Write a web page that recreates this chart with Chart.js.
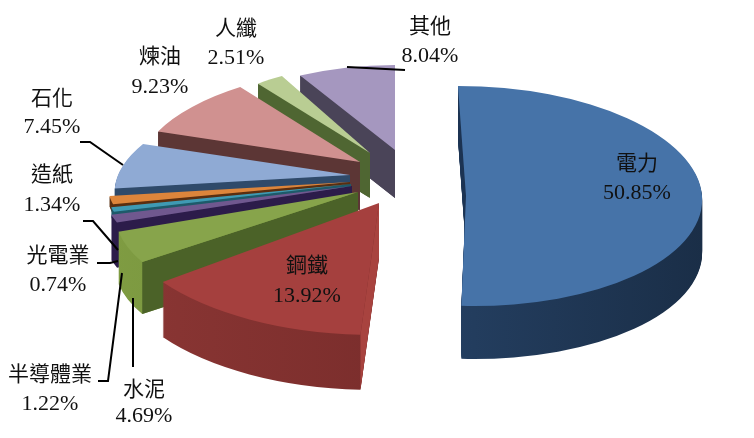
<!DOCTYPE html>
<html>
<head>
<meta charset="utf-8">
<title>pie</title>
<style>
    html, body { margin: 0; padding: 0; background: #ffffff; }
    canvas { display: block; }
</style>
<script src="https://cdn.jsdelivr.net/npm/chart.js@4"></script>
</head>
<body>
<canvas id="pieChart" width="754" height="438"></canvas>
<script>
"use strict";

const categories = ['電力', '鋼鐵', '水泥', '半導體業', '光電業', '造紙', '石化', '煉油', '人纖', '其他'];
const shares = [50.85, 13.92, 4.69, 1.22, 0.74, 1.34, 7.45, 9.23, 2.51, 8.04];

// colours: top face, rim wall (left/right), cut face
const topColors = ['#4673a8', '#a5403e', '#87a44b', '#70588f', '#3f9ab3', '#dd853b', '#8faad4', '#d09190', '#b9cd93', '#a597bf'];
const rimLeft = ['#2c4c75', '#8b3634', '#7f9c42', '#2c1c4a', '#1e5a6a', '#5a2e10', '#34506f', '#5c3635', '#4f6632', '#4a4458'];
const rimRight = ['#1a2e47', '#6c2625', '#6f8a3a', '#2c1c4a', '#1e5a6a', '#5a2e10', '#34506f', '#5c3635', '#4f6632', '#4a4458'];
const cutColors = ['#1c3352', '#a8433f', '#4b6228', '#2c1c4a', '#1e5a6a', '#5a2e10', '#2f4a6a', '#5c3635', '#4f6632', '#4a4458'];

// 3D look: every wedge is exploded and foreshortened on its own
const pieCenter = { x: 400, y: 180 };
const explodeX = [66, -21, -42, -48, -49, -50, -50, -40, -30, -5];
const explodeY = [16, 23, 12, 6, 4, 2, -5, -18, -27, -30];
const sizeX = [236, 267, 241, 250, 246, 243, 232, 220, 182, 196];
const sizeY = [110, 132, 117, 107, 104, 100, 96, 95, 88, 85];
const skewX = [0.073, -0.032, -0.325, 0, 0, 0, -0.41, -0.208, 0, 0];
const wallDepth = [53, 55, 52, 45, 10, 10, 48, 48, 45, 48];
const drawOrder = [9, 8, 7, 6, 5, 4, 3, 2, 1, 0];

// label layout: centre x, first line y, second line y
const labelX = [637, 307, 144, 50, 58, 52, 52, 160, 236, 430];
const labelY1 = [162, 264, 388, 373, 254, 173, 97, 55, 27, 25];
const labelY2 = [193, 296, 416, 404, 285, 205, 127, 87, 58, 56];
const leaderLines = [
    [[347, 67], [405, 70]],
    [[80, 142], [90, 142], [123, 165]],
    [[83, 221], [93, 221], [118, 250]],
    [[97, 263], [110, 263], [118, 261]],
    [[98, 381], [108, 381], [122, 273]],
    [[133, 298], [133, 367]]
];

function placeSlice(ctx, arc, i, dy) {
    ctx.translate(pieCenter.x + explodeX[i], pieCenter.y + explodeY[i] + dy);
    ctx.transform(1, 0, skewX[i], 1, 0, 0);
    ctx.scale(sizeX[i] / arc.outerRadius, sizeY[i] / arc.outerRadius);
    ctx.translate(-arc.x, -arc.y);
}

// direction from the wedge tip to its rim on screen
function rimVector(i, angle) {
    const y = Math.sin(angle) * sizeY[i];
    return { x: Math.cos(angle) * sizeX[i] + skewX[i] * y, y: y };
}

function drawCutFace(ctx, arc, i, angle) {
    const tipX = pieCenter.x + explodeX[i];
    const tipY = pieCenter.y + explodeY[i];
    const edge = rimVector(i, angle);
    const mid = rimVector(i, (arc.startAngle + arc.endAngle) / 2);
    // normal of the edge pointing down the screen
    const flip = edge.x >= 0 ? 1 : -1;
    if (mid.x * -edge.y * flip + mid.y * edge.x * flip >= 0) return;
    ctx.fillStyle = cutColors[i];
    ctx.beginPath();
    ctx.moveTo(tipX, tipY);
    ctx.lineTo(tipX + edge.x, tipY + edge.y);
    ctx.lineTo(tipX + edge.x, tipY + edge.y + wallDepth[i]);
    ctx.lineTo(tipX, tipY + wallDepth[i]);
    ctx.closePath();
    ctx.fill();
}

const pie3dPlugin = {
    id: 'pie3d',
    beforeDatasetsDraw(chart) {
        const ctx = chart.ctx;
        const arcs = chart.getDatasetMeta(0).data;
        drawOrder.forEach(i => {
            const arc = arcs[i];
            const top = arc.options.backgroundColor;

            // rim wall as a stack of the same wedge
            const r = arc.outerRadius;
            const grad = ctx.createLinearGradient(arc.x - r, 0, arc.x + r, 0);
            grad.addColorStop(0, rimLeft[i]);
            grad.addColorStop(1, rimRight[i]);
            arc.options.backgroundColor = grad;
            for (let d = wallDepth[i]; d > 0; d--) {
                ctx.save();
                placeSlice(ctx, arc, i, d);
                arc.draw(ctx);
                ctx.restore();
            }

            drawCutFace(ctx, arc, i, arc.startAngle);
            drawCutFace(ctx, arc, i, arc.endAngle);

            arc.options.backgroundColor = top;
            ctx.save();
            placeSlice(ctx, arc, i, 0);
            arc.draw(ctx);
            ctx.restore();
        });
        return false;
    },
    afterDraw(chart) {
        const ctx = chart.ctx;
        ctx.save();
        ctx.strokeStyle = '#000000';
        ctx.lineWidth = 2;
        leaderLines.forEach(line => {
            ctx.beginPath();
            line.forEach((p, n) => n ? ctx.lineTo(p[0], p[1]) : ctx.moveTo(p[0], p[1]));
            ctx.stroke();
        });

        ctx.fillStyle = '#111111';
        ctx.textAlign = 'center';
        ctx.textBaseline = 'middle';
        categories.forEach((name, i) => {
            ctx.font = '21px "Noto Sans CJK TC"';
            ctx.fillText(name, labelX[i], labelY1[i]);
            ctx.font = '22px "Liberation Serif"';
            ctx.fillText(shares[i].toFixed(2) + '%', labelX[i], labelY2[i]);
        });
        ctx.restore();
    }
};

new Chart(document.getElementById('pieChart').getContext('2d'), {
    type: 'pie',
    data: {
        labels: categories,
        datasets: [{
            data: shares,
            backgroundColor: topColors,
            borderWidth: 0
        }]
    },
    options: {
        responsive: false,
        animation: false,
        plugins: {
            legend: { display: false },
            tooltip: { enabled: false }
        }
    },
    plugins: [pie3dPlugin]
});
</script>
</body>
</html>
